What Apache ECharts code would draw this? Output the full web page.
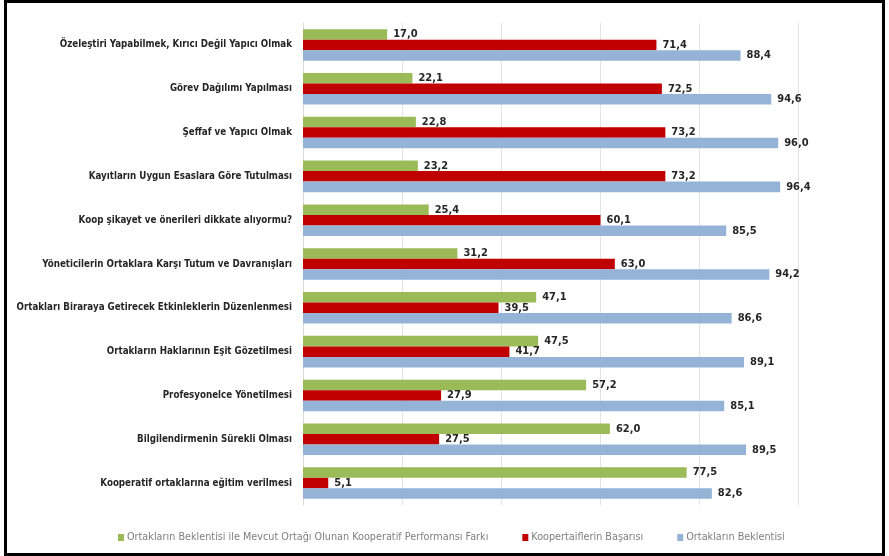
<!DOCTYPE html>
<html>
<head>
<meta charset="utf-8">
<script src="https://cdn.jsdelivr.net/npm/echarts@6/dist/echarts.min.js"></script>
<style>
html,body{margin:0;padding:0;background:#fff;}
#frame{position:absolute;left:4px;top:0;width:881px;height:556px;border:3px solid #000;box-sizing:border-box;}
#c{position:absolute;left:0;top:0;width:889px;height:556px;}
</style>
</head>
<body>
<div id="c"></div>
<div id="frame"></div>
<script>
var categories = [
  "Özeleştiri Yapabilmek, Kırıcı Değil Yapıcı Olmak",
  "Görev Dağılımı Yapılması",
  "Şeffaf ve Yapıcı Olmak",
  "Kayıtların Uygun Esaslara Göre Tutulması",
  "Koop şikayet ve önerileri dikkate alıyormu?",
  "Yöneticilerin Ortaklara Karşı Tutum ve Davranışları",
  "Ortakları Biraraya Getirecek Etkinleklerin Düzenlenmesi",
  "Ortakların Haklarının Eşit Gözetilmesi",
  "Profesyonelce Yönetilmesi",
  "Bilgilendirmenin Sürekli Olması",
  "Kooperatif ortaklarına eğitim verilmesi"
];
var seriesNames = [
  "Ortakların Beklentisi ile Mevcut Ortağı Olunan Kooperatif Performansı Farkı",
  "Koopertaiflerin Başarısı",
  "Ortakların Beklentisi"
];
var farkValues = [17.0, 22.1, 22.8, 23.2, 25.4, 31.2, 47.1, 47.5, 57.2, 62.0, 77.5];
var basariValues = [71.4, 72.5, 73.2, 73.2, 60.1, 63.0, 39.5, 41.7, 27.9, 27.5, 5.1];
var beklentiValues = [88.4, 94.6, 96.0, 96.4, 85.5, 94.2, 86.6, 89.1, 85.1, 89.5, 82.6];

var FONT = "'Liberation Sans Narrow','DejaVu Sans Condensed','Liberation Sans',sans-serif";
var colors = ['#9BBB59', '#C00000', '#95B3D7'];

function mk(name, data, color) {
  return {
    name: name,
    type: 'bar',
    data: data,
    barGap: '0%',
    barCategoryGap: '28%',
    itemStyle: { color: color },
    label: {
      show: true,
      position: 'right',
      distance: 6,
      fontFamily: FONT,
      fontWeight: 'bold',
      fontSize: 11,
      color: '#262626',
      formatter: function (p) { return p.value.toFixed(1).replace('.', ','); }
    }
  };
}

var chart = echarts.init(document.getElementById('c'));
chart.setOption({
  animation: false,
  grid: { left: 303, right: 91, top: 23, bottom: 51, containLabel: false, outerBoundsMode: 'none' },
  legend: {
    bottom: 8,
    left: 113,
    itemWidth: 6,
    itemHeight: 7,
    itemGap: 34,
    icon: 'rect',
    textStyle: { fontFamily: FONT, fontSize: 10.75, color: '#7f7f7f', padding: [0, 0, 0, -2] },
    data: seriesNames
  },
  xAxis: {
    type: 'value',
    min: 0,
    max: 100,
    interval: 20,
    axisLabel: { show: false },
    axisLine: { show: false },
    axisTick: { show: false },
    splitLine: { lineStyle: { color: '#e3e3e3' } }
  },
  yAxis: {
    type: 'category',
    inverse: true,
    data: categories,
    axisLine: { show: true, lineStyle: { color: '#d9d9d9' } },
    axisTick: { show: false },
    axisLabel: {
      margin: 11,
      fontFamily: FONT,
      fontWeight: 'bold',
      fontSize: 9.7,
      color: '#262626'
    }
  },
  series: [
    mk(seriesNames[0], farkValues, colors[0]),
    mk(seriesNames[1], basariValues, colors[1]),
    mk(seriesNames[2], beklentiValues, colors[2])
  ]
});
</script>
</body>
</html>
